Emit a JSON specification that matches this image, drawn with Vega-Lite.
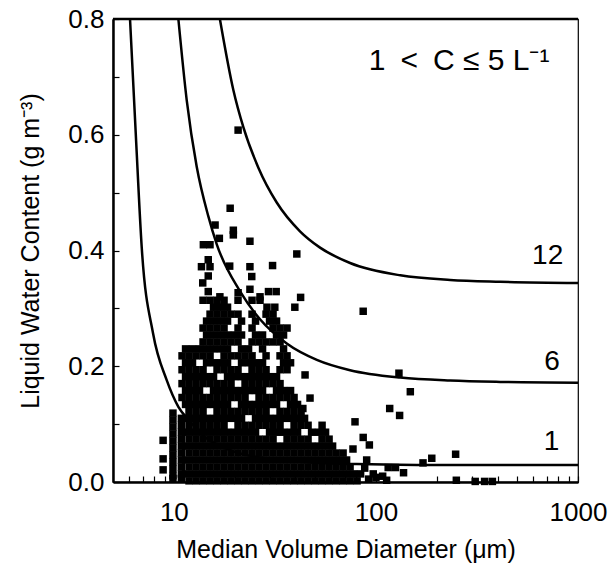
{
"$schema": "https://vega.github.io/schema/vega-lite/v6.json",
"width": 465, "height": 463,
"autosize": {"type": "none"},
"padding": {"left": 113, "top": 19, "right": 30, "bottom": 91},
"background": "white",
"config": {
 "font": "Liberation Sans",
 "view": {"stroke": "black", "strokeWidth": 1.2},
 "axis": {"grid": false, "labelColor": "black", "titleColor": "black", "tickColor": "black", "domainColor": "black", "domainWidth": 2.5, "tickWidth": 1.2, "titleFontWeight": "normal", "labelFontSize": 26, "titleFontSize": 25, "labelFlush": false, "labelOverlap": false, "labelBound": false}
},
"datasets": {
"pts": [
{"d":11.89,"w":0.002},{"d":12.88,"w":0.002},{"d":13.95,"w":0.002},{"d":15.11,"w":0.002},{"d":16.36,"w":0.002},{"d":17.72,"w":0.002},{"d":19.19,"w":0.002},{"d":20.78,"w":0.002},{"d":22.51,"w":0.002},{"d":24.38,"w":0.002},{"d":26.4,"w":0.002},{"d":28.6,"w":0.002},{"d":30.97,"w":0.002},{"d":33.54,"w":0.002},{"d":36.33,"w":0.002},{"d":39.35,"w":0.002},{"d":42.62,"w":0.002},{"d":46.16,"w":0.002},{"d":50,"w":0.002},{"d":54.15,"w":0.002},{"d":58.65,"w":0.002},{"d":63.53,"w":0.002},{"d":68.8,"w":0.002},{"d":74.5,"w":0.002},{"d":80.7,"w":0.002},
{"d":92,"w":0.005},{"d":100,"w":0.008},{"d":108,"w":0.01},{"d":113,"w":0.003},{"d":250,"w":0.003},{"d":310,"w":0.001},{"d":345,"w":0.001},{"d":377,"w":0.001},
{"d":11.43,"w":0.014},{"d":12.37,"w":0.014},{"d":13.4,"w":0.014},{"d":14.52,"w":0.014},{"d":15.72,"w":0.014},{"d":17.03,"w":0.014},{"d":18.44,"w":0.014},{"d":19.97,"w":0.014},{"d":21.63,"w":0.014},{"d":23.43,"w":0.014},{"d":25.37,"w":0.014},{"d":27.48,"w":0.014},{"d":29.76,"w":0.014},{"d":32.23,"w":0.014},{"d":34.91,"w":0.014},{"d":37.81,"w":0.014},{"d":40.95,"w":0.014},{"d":44.35,"w":0.014},{"d":48.04,"w":0.014},{"d":52.03,"w":0.014},{"d":56.35,"w":0.014},{"d":61.04,"w":0.014},{"d":66.11,"w":0.014},{"d":71.6,"w":0.014},{"d":77.5,"w":0.014},{"d":84,"w":0.014},{"d":97,"w":0.014},{"d":137,"w":0.016},
{"d":11.89,"w":0.026},{"d":12.88,"w":0.026},{"d":13.95,"w":0.026},{"d":15.11,"w":0.026},{"d":16.36,"w":0.026},{"d":17.72,"w":0.026},{"d":19.19,"w":0.026},{"d":20.78,"w":0.026},{"d":22.51,"w":0.026},{"d":24.38,"w":0.026},{"d":26.4,"w":0.026},{"d":28.6,"w":0.026},{"d":30.97,"w":0.026},{"d":33.54,"w":0.026},{"d":36.33,"w":0.026},{"d":39.35,"w":0.026},{"d":42.62,"w":0.026},{"d":46.16,"w":0.026},{"d":50,"w":0.026},{"d":54.15,"w":0.026},{"d":58.65,"w":0.026},{"d":63.53,"w":0.026},{"d":68.8,"w":0.026},{"d":74.5,"w":0.026},{"d":88,"w":0.024},{"d":115,"w":0.025},{"d":125,"w":0.025},
{"d":11.43,"w":0.038},{"d":12.37,"w":0.038},{"d":13.4,"w":0.038},{"d":14.52,"w":0.038},{"d":15.72,"w":0.038},{"d":17.03,"w":0.038},{"d":18.44,"w":0.038},{"d":19.97,"w":0.038},{"d":21.63,"w":0.038},{"d":23.43,"w":0.038},{"d":25.37,"w":0.038},{"d":27.48,"w":0.038},{"d":29.76,"w":0.038},{"d":32.23,"w":0.038},{"d":34.91,"w":0.038},{"d":37.81,"w":0.038},{"d":40.95,"w":0.038},{"d":44.35,"w":0.038},{"d":48.04,"w":0.038},{"d":52.03,"w":0.038},{"d":56.35,"w":0.038},{"d":61.04,"w":0.038},{"d":66.11,"w":0.038},{"d":71.6,"w":0.038},{"d":90,"w":0.038},{"d":171,"w":0.033},{"d":189,"w":0.041},
{"d":11.89,"w":0.05},{"d":12.88,"w":0.05},{"d":13.95,"w":0.05},{"d":15.11,"w":0.05},{"d":16.36,"w":0.05},{"d":17.72,"w":0.05},{"d":19.19,"w":0.05},{"d":20.78,"w":0.05},{"d":22.51,"w":0.05},{"d":24.38,"w":0.05},{"d":26.4,"w":0.05},{"d":28.6,"w":0.05},{"d":30.97,"w":0.05},{"d":33.54,"w":0.05},{"d":36.33,"w":0.05},{"d":39.35,"w":0.05},{"d":42.62,"w":0.05},{"d":46.16,"w":0.05},{"d":50,"w":0.05},{"d":54.15,"w":0.05},{"d":58.65,"w":0.05},{"d":63.53,"w":0.05},{"d":68.8,"w":0.05},{"d":248,"w":0.048},
{"d":11.43,"w":0.062},{"d":12.37,"w":0.062},{"d":13.4,"w":0.062},{"d":14.52,"w":0.062},{"d":15.72,"w":0.062},{"d":17.03,"w":0.062},{"d":18.44,"w":0.062},{"d":19.97,"w":0.062},{"d":21.63,"w":0.062},{"d":23.43,"w":0.062},{"d":25.37,"w":0.062},{"d":27.48,"w":0.062},{"d":29.76,"w":0.062},{"d":32.23,"w":0.062},{"d":34.91,"w":0.062},{"d":37.81,"w":0.062},{"d":40.95,"w":0.062},{"d":44.35,"w":0.062},{"d":48.04,"w":0.062},{"d":52.03,"w":0.062},{"d":56.35,"w":0.062},{"d":61.04,"w":0.062},{"d":77,"w":0.057},{"d":92.8,"w":0.064},
{"d":11.89,"w":0.074},{"d":12.88,"w":0.074},{"d":13.95,"w":0.074},{"d":15.11,"w":0.074},{"d":16.36,"w":0.074},{"d":17.72,"w":0.074},{"d":19.19,"w":0.074},{"d":20.78,"w":0.074},{"d":22.51,"w":0.074},{"d":24.38,"w":0.074},{"d":26.4,"w":0.074},{"d":28.6,"w":0.074},{"d":30.97,"w":0.074},{"d":36.33,"w":0.074},{"d":39.35,"w":0.074},{"d":42.62,"w":0.074},{"d":46.16,"w":0.074},{"d":54.15,"w":0.074},{"d":58.65,"w":0.074},{"d":86.5,"w":0.077},
{"d":11.43,"w":0.086},{"d":12.37,"w":0.086},{"d":13.4,"w":0.086},{"d":14.52,"w":0.086},{"d":15.72,"w":0.086},{"d":17.03,"w":0.086},{"d":18.44,"w":0.086},{"d":19.97,"w":0.086},{"d":21.63,"w":0.086},{"d":23.43,"w":0.086},{"d":25.37,"w":0.086},{"d":29.76,"w":0.086},{"d":32.23,"w":0.086},{"d":34.91,"w":0.086},{"d":37.81,"w":0.086},{"d":40.95,"w":0.086},{"d":48.04,"w":0.086},{"d":52.03,"w":0.086},{"d":56.35,"w":0.086},
{"d":11.89,"w":0.098},{"d":12.88,"w":0.098},{"d":13.95,"w":0.098},{"d":15.11,"w":0.098},{"d":16.36,"w":0.098},{"d":17.72,"w":0.098},{"d":20.78,"w":0.098},{"d":22.51,"w":0.098},{"d":24.38,"w":0.098},{"d":26.4,"w":0.098},{"d":28.6,"w":0.098},{"d":30.97,"w":0.098},{"d":33.54,"w":0.098},{"d":39.35,"w":0.098},{"d":42.62,"w":0.098},{"d":46.16,"w":0.098},{"d":54.15,"w":0.098},
{"d":11.43,"w":0.11},{"d":12.37,"w":0.11},{"d":13.4,"w":0.11},{"d":14.52,"w":0.11},{"d":15.72,"w":0.11},{"d":17.03,"w":0.11},{"d":18.44,"w":0.11},{"d":19.97,"w":0.11},{"d":21.63,"w":0.11},{"d":25.37,"w":0.11},{"d":27.48,"w":0.11},{"d":29.76,"w":0.11},{"d":32.23,"w":0.11},{"d":34.91,"w":0.11},{"d":37.81,"w":0.11},{"d":40.95,"w":0.11},{"d":44.35,"w":0.11},{"d":78.8,"w":0.104},
{"d":11.89,"w":0.122},{"d":12.88,"w":0.122},{"d":13.95,"w":0.122},{"d":16.36,"w":0.122},{"d":17.72,"w":0.122},{"d":19.19,"w":0.122},{"d":20.78,"w":0.122},{"d":22.51,"w":0.122},{"d":24.38,"w":0.122},{"d":26.4,"w":0.122},{"d":28.6,"w":0.122},{"d":33.54,"w":0.122},{"d":36.33,"w":0.122},{"d":39.35,"w":0.122},{"d":42.62,"w":0.122},
{"d":11.43,"w":0.134},{"d":12.37,"w":0.134},{"d":13.4,"w":0.134},{"d":14.52,"w":0.134},{"d":15.72,"w":0.134},{"d":17.03,"w":0.134},{"d":18.44,"w":0.134},{"d":21.63,"w":0.134},{"d":23.43,"w":0.134},{"d":25.37,"w":0.134},{"d":27.48,"w":0.134},{"d":29.76,"w":0.134},{"d":32.23,"w":0.134},{"d":37.81,"w":0.134},{"d":40.95,"w":0.134},{"d":117,"w":0.127},{"d":131,"w":0.115},{"d":43.5,"w":0.127},
{"d":10.98,"w":0.146},{"d":11.89,"w":0.146},{"d":12.88,"w":0.146},{"d":13.95,"w":0.146},{"d":15.11,"w":0.146},{"d":16.36,"w":0.146},{"d":17.72,"w":0.146},{"d":19.19,"w":0.146},{"d":20.78,"w":0.146},{"d":22.51,"w":0.146},{"d":26.4,"w":0.146},{"d":28.6,"w":0.146},{"d":30.97,"w":0.146},{"d":33.54,"w":0.146},{"d":36.33,"w":0.146},{"d":39.35,"w":0.146},{"d":47.2,"w":0.145},
{"d":11.43,"w":0.158},{"d":12.37,"w":0.158},{"d":13.4,"w":0.158},{"d":15.72,"w":0.158},{"d":17.03,"w":0.158},{"d":18.44,"w":0.158},{"d":19.97,"w":0.158},{"d":21.63,"w":0.158},{"d":23.43,"w":0.158},{"d":25.37,"w":0.158},{"d":27.48,"w":0.158},{"d":32.23,"w":0.158},{"d":34.91,"w":0.158},{"d":37.81,"w":0.158},{"d":148,"w":0.156},
{"d":10.98,"w":0.17},{"d":11.89,"w":0.17},{"d":12.88,"w":0.17},{"d":13.95,"w":0.17},{"d":15.11,"w":0.17},{"d":16.36,"w":0.17},{"d":17.72,"w":0.17},{"d":19.19,"w":0.17},{"d":22.51,"w":0.17},{"d":24.38,"w":0.17},{"d":26.4,"w":0.17},{"d":28.6,"w":0.17},{"d":30.97,"w":0.17},{"d":33.54,"w":0.17},
{"d":11.43,"w":0.182},{"d":12.37,"w":0.182},{"d":13.4,"w":0.182},{"d":14.52,"w":0.182},{"d":15.72,"w":0.182},{"d":18.44,"w":0.182},{"d":19.97,"w":0.182},{"d":21.63,"w":0.182},{"d":23.43,"w":0.182},{"d":25.37,"w":0.182},{"d":27.48,"w":0.182},{"d":29.76,"w":0.182},{"d":32.23,"w":0.182},{"d":44.6,"w":0.185},{"d":130,"w":0.188},
{"d":10.98,"w":0.194},{"d":11.89,"w":0.194},{"d":12.88,"w":0.194},{"d":13.95,"w":0.194},{"d":16.36,"w":0.194},{"d":17.72,"w":0.194},{"d":19.19,"w":0.194},{"d":20.78,"w":0.194},{"d":24.38,"w":0.194},{"d":26.4,"w":0.194},{"d":28.6,"w":0.194},{"d":33.54,"w":0.194},{"d":36.33,"w":0.194},
{"d":11.43,"w":0.206},{"d":12.37,"w":0.206},{"d":14.52,"w":0.206},{"d":15.72,"w":0.206},{"d":17.03,"w":0.206},{"d":18.44,"w":0.206},{"d":21.63,"w":0.206},{"d":23.43,"w":0.206},{"d":25.37,"w":0.206},{"d":27.48,"w":0.206},{"d":34.91,"w":0.206},{"d":37.81,"w":0.206},
{"d":10.98,"w":0.218},{"d":11.89,"w":0.218},{"d":12.88,"w":0.218},{"d":13.95,"w":0.218},{"d":15.11,"w":0.218},{"d":17.72,"w":0.218},{"d":19.19,"w":0.218},{"d":20.78,"w":0.218},{"d":22.51,"w":0.218},{"d":24.38,"w":0.218},{"d":28.6,"w":0.218},{"d":33.54,"w":0.218},{"d":36.33,"w":0.218},
{"d":11.43,"w":0.23},{"d":12.37,"w":0.23},{"d":13.4,"w":0.23},{"d":14.52,"w":0.23},{"d":15.72,"w":0.23},{"d":17.03,"w":0.23},{"d":18.44,"w":0.23},{"d":21.63,"w":0.23},{"d":23.43,"w":0.23},{"d":27.48,"w":0.23},{"d":34.91,"w":0.23},
{"d":13.95,"w":0.242},{"d":15.11,"w":0.242},{"d":16.36,"w":0.242},{"d":17.72,"w":0.242},{"d":19.19,"w":0.242},{"d":20.78,"w":0.242},{"d":24.38,"w":0.242},{"d":26.4,"w":0.242},{"d":28.6,"w":0.242},{"d":30.97,"w":0.242},{"d":33.54,"w":0.242},
{"d":14.52,"w":0.254},{"d":15.72,"w":0.254},{"d":17.03,"w":0.254},{"d":18.44,"w":0.254},{"d":19.97,"w":0.254},{"d":21.63,"w":0.254},{"d":25.37,"w":0.254},{"d":27.48,"w":0.254},{"d":32.23,"w":0.254},{"d":34.91,"w":0.254},
{"d":13.95,"w":0.266},{"d":15.11,"w":0.266},{"d":16.36,"w":0.266},{"d":17.72,"w":0.266},{"d":20.78,"w":0.266},{"d":24.38,"w":0.266},{"d":30.97,"w":0.266},{"d":33.54,"w":0.266},{"d":36.33,"w":0.266},
{"d":14.52,"w":0.278},{"d":15.72,"w":0.278},{"d":17.03,"w":0.278},{"d":18.44,"w":0.278},{"d":21.63,"w":0.278},{"d":25.37,"w":0.278},{"d":29.76,"w":0.278},{"d":32.23,"w":0.278},
{"d":15.11,"w":0.29},{"d":16.36,"w":0.29},{"d":17.72,"w":0.29},{"d":19.19,"w":0.29},{"d":20.78,"w":0.29},{"d":24.38,"w":0.29},{"d":28.6,"w":0.29},{"d":30.97,"w":0.29},
{"d":15.72,"w":0.302},{"d":17.03,"w":0.302},{"d":18.44,"w":0.302},{"d":28.9,"w":0.302},{"d":31.6,"w":0.302},{"d":39.7,"w":0.302},
{"d":13.95,"w":0.314},{"d":15.11,"w":0.314},{"d":16.36,"w":0.314},{"d":17.72,"w":0.314},{"d":20.78,"w":0.314},{"d":24.38,"w":0.314},{"d":26.7,"w":0.314},{"d":42.4,"w":0.319},
{"d":20.8,"w":0.608},{"d":19.0,"w":0.473},{"d":16.0,"w":0.444},{"d":19.7,"w":0.435},{"d":19.7,"w":0.427},{"d":16.8,"w":0.421},{"d":14.0,"w":0.41},{"d":15.1,"w":0.41},{"d":23.8,"w":0.416},{"d":40.6,"w":0.394},{"d":14.8,"w":0.384},{"d":13.7,"w":0.372},{"d":15.1,"w":0.372},{"d":18.9,"w":0.373},{"d":23.8,"w":0.372},{"d":30.8,"w":0.374},{"d":14.8,"w":0.356},{"d":24.3,"w":0.355},{"d":13.9,"w":0.344},{"d":23.8,"w":0.333},{"d":29.4,"w":0.329},{"d":32.1,"w":0.329},{"d":14.8,"w":0.329},{"d":16.9,"w":0.32},{"d":20.8,"w":0.327},{"d":26.7,"w":0.32},{"d":86.5,"w":0.295},
{"d":8.85,"w":0.072},{"d":8.85,"w":0.04},{"d":8.85,"w":0.021},
{"d":9.9,"w":0.119},{"d":9.9,"w":0.107},{"d":9.9,"w":0.095},{"d":9.9,"w":0.083},{"d":9.9,"w":0.071},{"d":9.9,"w":0.059},{"d":9.9,"w":0.047},{"d":9.9,"w":0.035},{"d":9.9,"w":0.023},{"d":9.9,"w":0.011},{"d":9.9,"w":0.006},
{"d":10.9,"w":0.11},{"d":10.9,"w":0.098},{"d":10.9,"w":0.086},{"d":10.9,"w":0.074},{"d":10.9,"w":0.062},{"d":10.9,"w":0.05},{"d":10.9,"w":0.038},{"d":10.9,"w":0.026},{"d":10.9,"w":0.014},{"d":10.9,"w":0.006}
],
"curves": [
{"c":"1","d":6.07,"w":0.8},{"c":"1","d":6.48,"w":0.602},{"c":"1","d":6.94,"w":0.404},{"c":"1","d":7.89,"w":0.257},{"c":"1","d":9.22,"w":0.176},{"c":"1","d":10.53,"w":0.13},{"c":"1","d":12,"w":0.105},{"c":"1","d":14,"w":0.08},{"c":"1","d":17,"w":0.062},{"c":"1","d":20,"w":0.052},{"c":"1","d":25,"w":0.044},{"c":"1","d":30,"w":0.04},{"c":"1","d":42,"w":0.035},{"c":"1","d":60,"w":0.032},{"c":"1","d":80,"w":0.031},{"c":"1","d":130,"w":0.0298},{"c":"1","d":200,"w":0.0294},{"c":"1","d":1000,"w":0.0294},
{"c":"6","d":10.53,"w":0.8},{"c":"6","d":11.58,"w":0.66},{"c":"6","d":12.98,"w":0.5448},{"c":"6","d":14.81,"w":0.4593},{"c":"6","d":16.31,"w":0.4107},{"c":"6","d":21.2,"w":0.3302},{"c":"6","d":26.7,"w":0.2811},{"c":"6","d":36.2,"w":0.2394},{"c":"6","d":51,"w":0.2111},{"c":"6","d":74.5,"w":0.1932},{"c":"6","d":132,"w":0.1804},{"c":"6","d":233,"w":0.1752},{"c":"6","d":412,"w":0.1729},{"c":"6","d":1000,"w":0.1716},
{"c":"12","d":16.9,"w":0.8},{"c":"12","d":19.7,"w":0.6774},{"c":"12","d":22.1,"w":0.6127},{"c":"12","d":26.2,"w":0.5431},{"c":"12","d":32.3,"w":0.4829},{"c":"12","d":42.1,"w":0.4332},{"c":"12","d":52.9,"w":0.405},{"c":"12","d":74.5,"w":0.3784},{"c":"12","d":132,"w":0.3571},{"c":"12","d":233,"w":0.349},{"c":"12","d":412,"w":0.3459},{"c":"12","d":1000,"w":0.3438}
],
"labs": [
{"t":"12","d":708,"w":0.391},{"t":"6","d":743,"w":0.208},{"t":"1","d":740,"w":0.0697}
],
"note": [
{"t":"1\u2002<\u2002C ≤ 5 L⁻¹","d":258,"w":0.728}
]
},
"layer": [
{"data": {"name": "pts"},
 "mark": {"type": "square", "filled": true, "color": "black", "size": 56, "opacity": 1},
 "encoding": {
  "x": {"field": "d", "type": "quantitative", "scale": {"type": "log", "domain": [5, 1000], "nice": false},
        "axis": {"title": "Median Volume Diameter (μm)", "values": [6,7,8,9,10,20,30,40,50,60,70,80,90,100,200,300,400,500,600,700,800,900,1000],
                 "labelExpr": "datum.value == 10 || datum.value == 100 || datum.value == 1000 ? format(datum.value, 'd') : ''",
                 "tickSize": -6, "labelPadding": 23, "titlePadding": 12}},
  "y": {"field": "w", "type": "quantitative", "scale": {"domain": [0, 0.8], "nice": false, "zero": false},
        "axis": {"title": "Liquid Water Content (g m⁻³)", "values": [0,0.05,0.1,0.15,0.2,0.25,0.3,0.35,0.4,0.45,0.5,0.55,0.6,0.65,0.7,0.75,0.8],
                 "labelExpr": "indexof([0,0.2,0.4,0.6,0.8], datum.value) >= 0 ? format(datum.value, '.1f') : ''",
                 "tickSize": -6, "labelPadding": 15, "titlePadding": 24}}
 }},
{"data": {"name": "curves"},
 "mark": {"type": "line", "color": "black", "strokeWidth": 2.5, "interpolate": "monotone"},
 "encoding": {
  "x": {"field": "d", "type": "quantitative"},
  "y": {"field": "w", "type": "quantitative"},
  "detail": {"field": "c", "type": "nominal"}
 }},
{"data": {"name": "labs"},
 "mark": {"type": "text", "fontSize": 28, "color": "black", "align": "center", "baseline": "middle"},
 "encoding": {
  "x": {"field": "d", "type": "quantitative"},
  "y": {"field": "w", "type": "quantitative"},
  "text": {"field": "t"}
 }},
{"data": {"name": "note"},
 "mark": {"type": "text", "fontSize": 30, "color": "black", "align": "center", "baseline": "middle"},
 "encoding": {
  "x": {"field": "d", "type": "quantitative"},
  "y": {"field": "w", "type": "quantitative"},
  "text": {"field": "t"}
 }},
{"data": {"values": [{}]},
 "mark": {"type": "rule", "color": "black", "strokeWidth": 2.5},
 "encoding": {"y": {"datum": 0.8}}
}
]
}
